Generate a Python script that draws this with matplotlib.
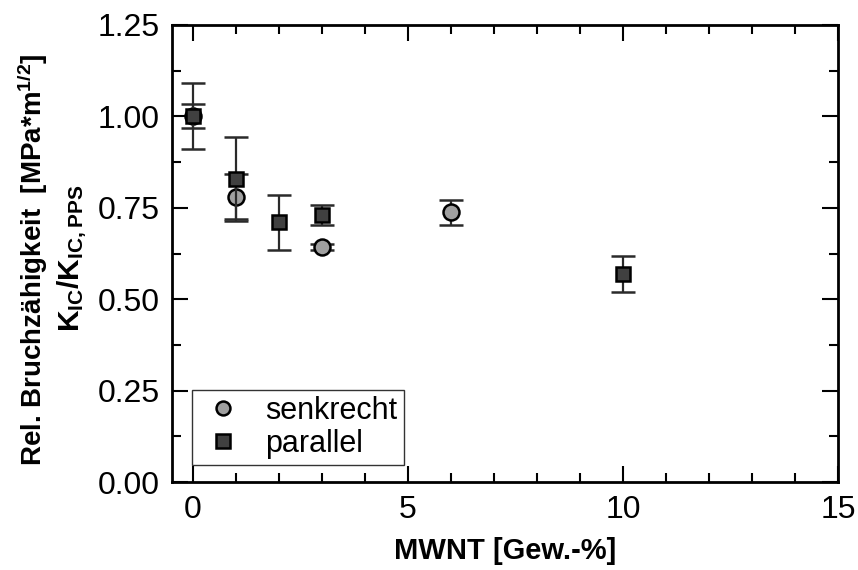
import matplotlib
matplotlib.use("Agg")
import matplotlib.pyplot as plt
from matplotlib.lines import Line2D
from matplotlib.ticker import MultipleLocator, FormatStrFormatter

plt.rcParams['font.family'] = ['Liberation Sans', 'DejaVu Sans']
plt.rcParams['mathtext.fontset'] = 'custom'
plt.rcParams['mathtext.rm'] = 'Liberation Sans'
plt.rcParams['mathtext.bf'] = 'Liberation Sans:bold'
plt.rcParams['mathtext.default'] = 'bf'

# Data
senk_x = [0, 1, 3, 6]
senk_y = [1.00, 0.780, 0.642, 0.738]
senk_err = [0.033, 0.062, 0.008, 0.034]

par_x = [0, 1, 2, 3, 10]
par_y = [1.00, 0.828, 0.710, 0.730, 0.569]
par_err = [0.090, 0.115, 0.075, 0.028, 0.049]

xticks = [0, 5, 10, 15]
yticks = [0.00, 0.25, 0.50, 0.75, 1.00, 1.25]

W, H = 858, 570
fig = plt.figure(figsize=(W / 100, H / 100), dpi=100)
ax = fig.add_axes([172 / W, 1 - 482 / H, (838 - 172) / W, (482 - 25) / H])

senk_style = dict(marker='o', ms=11.5, mfc='#a0a0a0', mec='black', mew=1.8)
par_style = dict(marker='s', ms=10.5, mfc='#404040', mec='black', mew=1.8)

ax.errorbar(senk_x, senk_y, yerr=senk_err, linestyle='none', ecolor='#2a2a2a',
            elinewidth=1.6, capsize=8.3, capthick=1.6, zorder=3, **senk_style)
ax.errorbar(par_x, par_y, yerr=par_err, linestyle='none', ecolor='#2a2a2a',
            elinewidth=1.6, capsize=8.3, capthick=1.6, zorder=4, **par_style)

ax.set_xlim(-0.49, 15)
ax.set_ylim(0, 1.25)
ax.set_xticks(xticks)
ax.set_yticks(yticks)
ax.yaxis.set_major_formatter(FormatStrFormatter('%.2f'))
ax.xaxis.set_minor_locator(MultipleLocator(1))
ax.yaxis.set_minor_locator(MultipleLocator(0.125))

ax.tick_params(which='both', direction='in', top=True, right=True,
               labelsize=23, width=1.5, pad=9)
ax.tick_params(which='major', length=11.5)
ax.tick_params(which='minor', length=6.5)
for s in ax.spines.values():
    s.set_linewidth(2.0)

ax.set_xlabel('MWNT [Gew.-%]', fontsize=21, fontweight='bold', labelpad=9)

# Two-line y label
fig.text(33 / W, 1 - 260 / H, 'Rel. Bruchzähigkeit  [MPa*m$^{1/2}$]',
         rotation=90, ha='center', va='center', fontsize=20, fontweight='bold')
fig.text(72 / W, 1 - 258 / H, 'K$_{IC}$/K$_{IC, PPS}$',
         rotation=90, ha='center', va='center', fontsize=21.5, fontweight='bold')

handles = [Line2D([], [], linestyle='none', **dict(senk_style, ms=10)),
           Line2D([], [], linestyle='none', **dict(par_style, ms=9.5))]
leg = ax.legend(handles, ['senkrecht', 'parallel'], loc='lower left',
                bbox_to_anchor=(0.03, 0.037), fontsize=22,
                frameon=True, fancybox=False, edgecolor='black',
                borderpad=0.2, handletextpad=0.6, labelspacing=0.1,
                handlelength=1.6, borderaxespad=0)
leg.get_frame().set_linewidth(1.0)

fig.savefig('out.png', dpi=100)
